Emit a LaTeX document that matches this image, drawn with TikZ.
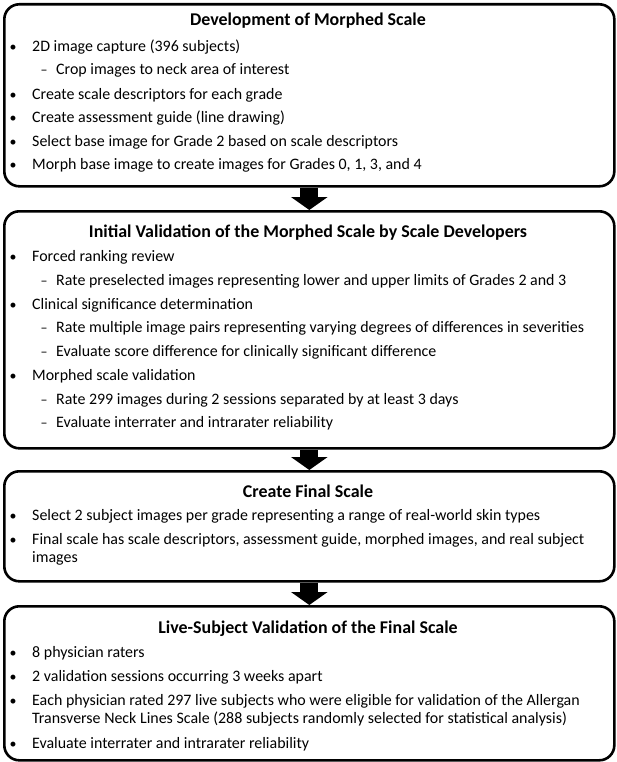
\documentclass[tikz,border=0pt]{standalone}
\usepackage{fontspec}
\setmainfont{Carlito}
\usetikzlibrary{arrows.meta}
\begin{document}
\begin{tikzpicture}[x=1bp,y=-1bp,
  box/.style={draw, line width=2.6bp, rounded corners=15bp, anchor=north west, inner sep=0pt},
  ttl/.style={font=\fontsize{18}{21}\selectfont\bfseries, anchor=base, inner sep=0pt},
  txt/.style={font=\fontsize{16}{19}\selectfont, anchor=base west, inner sep=0pt},
  bul/.style={font=\fontsize{14}{17}\selectfont, anchor=base, inner sep=0pt},
  fat/.style={line width=18bp, -{Triangle[length=13bp,width=36bp]}}]
\useasboundingbox (0,0) rectangle (617,762);
% boxes
\node[box, minimum width=610bp, minimum height=182bp] (b1) at (3,3) {};
\node[box, minimum width=610bp, minimum height=237bp] (b2) at (3,210) {};
\node[box, minimum width=610bp, minimum height=110bp] (b3) at (3,470) {};
\node[box, minimum width=610bp, minimum height=154bp] (b4) at (3,605) {};
% arrows
\draw[fat] (b1.south) -- (b2.north);
\draw[fat] (b2.south) -- (b3.north);
\draw[fat] (b3.south) -- (b4.north);
% box 1
\node[ttl] (t1) at (308,26) {Development of Morphed Scale};
\node[bul] (p11) at (13,52) {•};
\node[txt] (x11) at (32,52) {2D image capture (396 subjects)};
\node[bul] (p12) at (44,75) {–};
\node[txt] (x12) at (56,75) {Crop images to neck area of interest};
\node[bul] (p13) at (13,99) {•};
\node[txt] (x13) at (32,99) {Create scale descriptors for each grade};
\node[bul] (p14) at (13,122) {•};
\node[txt] (x14) at (32,122) {Create assessment guide (line drawing)};
\node[bul] (p15) at (13,146) {•};
\node[txt] (x15) at (32,146) {Select base image for Grade 2 based on scale descriptors};
\node[bul] (p16) at (13,169) {•};
\node[txt] (x16) at (32,169) {Morph base image to create images for Grades 0, 1, 3, and 4};
% box 2
\node[ttl] (t2) at (308,237) {Initial Validation of the Morphed Scale by Scale Developers};
\node[bul] (p21) at (13,261) {•};
\node[txt] (x21) at (32,261) {Forced ranking review};
\node[bul] (p22) at (44,285) {–};
\node[txt] (x22) at (56,285) {Rate preselected images representing lower and upper limits of Grades 2 and 3};
\node[bul] (p23) at (13,309) {•};
\node[txt] (x23) at (32,309) {Clinical significance determination};
\node[bul] (p24) at (44,332) {–};
\node[txt] (x24) at (56,332) {Rate multiple image pairs representing varying degrees of differences in severities};
\node[bul] (p25) at (44,356) {–};
\node[txt] (x25) at (56,356) {Evaluate score difference for clinically significant difference};
\node[bul] (p26) at (13,380) {•};
\node[txt] (x26) at (32,380) {Morphed scale validation};
\node[bul] (p27) at (44,404) {–};
\node[txt] (x27) at (56,404) {Rate 299 images during 2 sessions separated by at least 3 days};
\node[bul] (p28) at (44,427) {–};
\node[txt] (x28) at (56,427) {Evaluate interrater and intrarater reliability};
% box 3
\node[ttl] (t3) at (308,497) {Create Final Scale};
\node[bul] (p31) at (13,520) {•};
\node[txt] (x31) at (32,520) {Select 2 subject images per grade representing a range of real-world skin types};
\node[bul] (p32) at (13,544) {•};
\node[txt] (x32) at (32,544) {Final scale has scale descriptors, assessment guide, morphed images, and real subject};
\node[txt] (x33) at (32,562) {images};
% box 4
\node[ttl] (t4) at (308,633) {Live-Subject Validation of the Final Scale};
\node[bul] (p41) at (13,657) {•};
\node[txt] (x41) at (32,657) {8 physician raters};
\node[bul] (p42) at (13,681) {•};
\node[txt] (x42) at (32,681) {2 validation sessions occurring 3 weeks apart};
\node[bul] (p43) at (13,705) {•};
\node[txt] (x43) at (32,705) {Each physician rated 297 live subjects who were eligible for validation of the Allergan};
\node[txt] (x44) at (32,723.5) {Transverse Neck Lines Scale (288 subjects randomly selected for statistical analysis)};
\node[bul] (p45) at (13,748) {•};
\node[txt] (x45) at (32,748) {Evaluate interrater and intrarater reliability};
\end{tikzpicture}
\end{document}
